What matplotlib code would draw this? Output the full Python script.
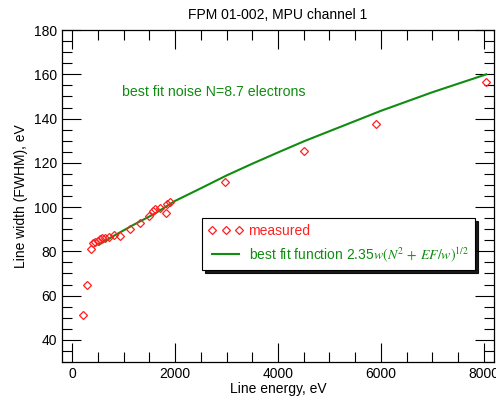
import matplotlib
matplotlib.use("Agg")
import matplotlib.pyplot as plt
from matplotlib.ticker import MultipleLocator

plt.rcParams['font.family'] = ['Liberation Sans', 'DejaVu Sans']
plt.rcParams['mathtext.fontset'] = 'stix'

# measured points
energy = [200, 285, 363, 395, 433, 499, 544, 576, 628, 705, 803, 932, 1113, 1307,
          1495, 1560, 1599, 1709, 1825, 1838, 1903, 2965, 4511, 5903, 8052]
fwhm = [51.0, 65.0, 81.0, 83.7, 84.4, 84.8, 85.5, 86.0, 86.2, 86.6, 87.4, 87.0, 90.3, 93.0,
        96.0, 98.2, 99.0, 99.5, 97.5, 101.4, 102.5, 111.5, 125.3, 137.6, 156.4]

# best fit curve
fit_energy = [520, 800, 1200, 1600, 2000, 2500, 3000, 3500, 4000, 4500, 5000, 5500, 6000, 7000, 8050]
fit_fwhm = [83.0, 86.9, 92.1, 97.0, 102.8, 108.5, 114.3, 119.6, 124.7, 129.7, 134.3, 138.9, 143.5, 151.9, 160.0]

red = '#ff2020'
green = '#108c10'

fig = plt.figure(figsize=(4.96, 3.96), dpi=100)
ax = fig.add_axes([0.125, 0.086, 0.871, 0.838])

ax.plot(fit_energy, fit_fwhm, color=green, lw=1.5, zorder=2,
        label=r"best fit function 2.35$w(N^2\,+\,EF/w)^{1/2}$")
ax.plot(energy, fwhm, linestyle='none', marker='D', markersize=4.5,
        markerfacecolor='none', markeredgecolor=red, markeredgewidth=0.9,
        zorder=3, label='measured')

ax.set_xlim(-200, 8200)
ax.set_ylim(30, 180)
ax.xaxis.set_major_locator(MultipleLocator(2000))
ax.xaxis.set_minor_locator(MultipleLocator(500))
ax.yaxis.set_major_locator(MultipleLocator(20))
ax.yaxis.set_minor_locator(MultipleLocator(5))
ax.tick_params(which='both', direction='in', top=True, right=True, labelsize=10, width=0.8)
ax.tick_params(which='major', length=14)
ax.tick_params(which='minor', length=7)
for s in ax.spines.values():
    s.set_linewidth(0.9)

ax.set_xlabel('Line energy, eV', fontsize=10, labelpad=1)
ax.set_ylabel('Line width (FWHM), eV', fontsize=10, labelpad=4)
ax.set_title('FPM 01-002, MPU channel 1', fontsize=10, pad=8)

ax.text(0.14, 0.80, 'best fit noise N=8.7 electrons', transform=ax.transAxes,
        color=green, fontsize=10.2)

handles, labels = ax.get_legend_handles_labels()
leg = ax.legend(handles[::-1], labels[::-1], loc='upper left',
                bbox_to_anchor=(0.324, 0.434), numpoints=3, frameon=True,
                fancybox=False, shadow={'color': 'black', 'alpha': 0.9},
                edgecolor='black', fontsize=10, handlelength=2.5,
                handletextpad=0.4, borderpad=0.45, borderaxespad=0, framealpha=1)
leg.get_frame().set_linewidth(0.8)
for t, c in zip(leg.get_texts(), [red, green]):
    t.set_color(c)

fig.savefig('out.png', dpi=100)
